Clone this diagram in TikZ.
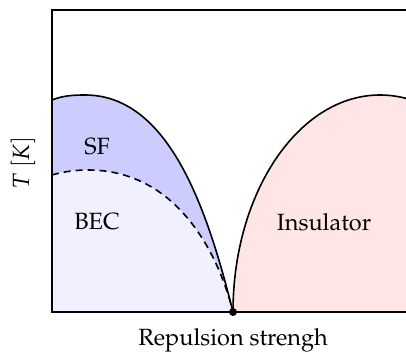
\documentclass[tikz,border=0pt]{standalone}
\usepackage[T1]{fontenc}
\usepackage{mathpazo}
\definecolor{sfblue}{RGB}{204,204,255}
\definecolor{becblue}{RGB}{240,240,255}
\definecolor{inspink}{RGB}{255,229,229}
\tikzset{
  curve/.style={line width=1.6pt, line join=round},
  dashcurve/.style={line width=1.6pt, dash pattern=on 7pt off 5pt},
  frame/.style={line width=2pt},
  lbl/.style={font=\fontsize{23.5}{28}\selectfont, inner sep=0pt}
}
\begin{document}
\begin{tikzpicture}[x=1pt,y=1pt]
\clip (0,0) rectangle (406,351);
\coordinate (O) at (233,39);
\coordinate (BL) at (52,39);
\coordinate (TL) at (52,341);
\coordinate (TR) at (540,341);
\coordinate (BR) at (540,39);
% fills
\fill[sfblue] (BL) -- (52,251) .. controls (63,255.5) and (74,256) .. (85,256)
  .. controls (170,256) and (208,139) .. (O) -- cycle;
\fill[becblue] (BL) -- (52,176) .. controls (64,179.5) and (76,181) .. (88,181)
  .. controls (176,181) and (218,99) .. (O) -- cycle;
\fill[inspink] (O) arc[start angle=180, end angle=0, x radius=147, y radius=217] -- cycle;
% curves
\draw[curve] (52,251) .. controls (63,255.5) and (74,256) .. (85,256)
  .. controls (170,256) and (208,139) .. (O);
\draw[dashcurve] (52,176) .. controls (64,179.5) and (76,181) .. (88,181)
  .. controls (176,181) and (218,99) .. (O);
\draw[curve] (O) arc[start angle=180, end angle=0, x radius=147, y radius=217];
% frame
\draw[frame] (BR) -- (BL) -- (TL) -- (TR);
\fill (O) circle (4);
% labels
\node[lbl] (sf) at (97,204) {SF};
\node[lbl] (bec) at (97,129) {BEC};
\node[lbl] (ins) at (324,129) {Insulator};
\node[lbl, rotate=90] (ylab) at (23,188) {$T~[K]$};
\node[lbl] (xlab) at (233,11) {Repulsion strengh};
\end{tikzpicture}
\end{document}
